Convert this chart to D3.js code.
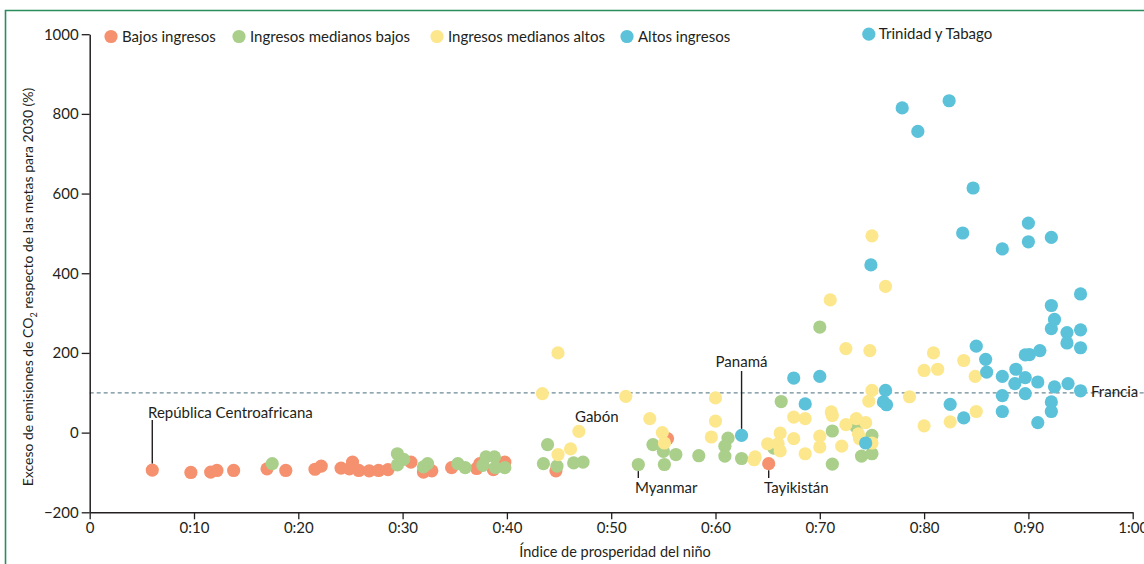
<!DOCTYPE html>
<html lang="es">
<head>
<meta charset="utf-8">
<script src="https://cdn.jsdelivr.net/npm/d3@7"></script>
<style>
  html, body { margin: 0; padding: 0; background: #fff; }
  svg { display: block; font-family: Lato, "Open Sans", sans-serif; }
</style>
</head>
<body>
<svg id="chart" width="1144" height="564"></svg>
<script>
// Income groups: [child flourishing index, excess CO2 emissions vs 2030 targets (%)]
const groupNames = ["Bajos ingresos", "Ingresos medianos bajos", "Ingresos medianos altos", "Altos ingresos"];
const groupColors = ["#f5916f", "#a9cf8a", "#fde78d", "#5bc2da"];

const lowIncome = [
  [0.060,-94],[0.097,-100],[0.116,-99],[0.122,-95],[0.138,-95],[0.170,-91],[0.188,-95],
  [0.216,-92],[0.222,-84],[0.241,-89],[0.252,-74],[0.249,-91],[0.258,-95],[0.268,-96],
  [0.277,-95],[0.286,-93],[0.308,-74],[0.320,-99],[0.328,-96],[0.347,-88],[0.371,-90],
  [0.374,-78],[0.387,-93],[0.398,-74],[0.447,-96],[0.554,-15],[0.651,-78]
];
const lowerMiddle = [
  [0.175,-78],[0.295,-53],[0.301,-67],[0.295,-81],[0.324,-78],[0.320,-86],[0.353,-78],
  [0.360,-88],[0.380,-61],[0.388,-61],[0.377,-82],[0.389,-88],[0.398,-88],[0.439,-30],
  [0.435,-78],[0.448,-84],[0.464,-76],[0.473,-74],[0.540,-30],[0.550,-47],[0.562,-55],
  [0.551,-80],[0.526,-80],[0.584,-58],[0.612,-14],[0.609,-34],[0.609,-59],[0.625,-65],
  [0.663,78],[0.656,-39],[0.700,265],[0.712,4],[0.712,-79],[0.735,14],[0.740,-59],
  [0.750,-7],[0.750,-53]
];
const upperMiddle = [
  [0.449,200],[0.434,98],[0.449,-55],[0.461,-41],[0.469,3],[0.514,91],[0.537,35],
  [0.549,0],[0.551,-26],[0.600,87],[0.600,29],[0.596,-11],[0.638,-61],[0.637,-68],
  [0.650,-28],[0.660,-28],[0.662,-1],[0.662,-46],[0.675,-15],[0.675,39],[0.686,35],
  [0.686,-53],[0.710,333],[0.711,52],[0.712,43],[0.700,-9],[0.700,-36],[0.721,-34],
  [0.725,20],[0.725,211],[0.735,35],[0.744,25],[0.737,-3],[0.738,-15],[0.750,-26],
  [0.748,206],[0.750,106],[0.747,79],[0.750,494],[0.763,367],[0.786,90],[0.800,156],
  [0.809,200],[0.813,159],[0.800,17],[0.825,27],[0.838,181],[0.849,141],[0.850,53]
];
const highIncome = [
  [0.625,-7],[0.675,137],[0.686,72],[0.700,141],[0.744,-26],[0.749,421],[0.763,106],
  [0.761,77],[0.764,70],[0.779,815],[0.794,756],[0.824,833],[0.825,71],[0.838,37],
  [0.837,501],[0.847,614],[0.850,217],[0.859,184],[0.860,152],[0.875,461],[0.875,141],
  [0.875,93],[0.875,53],[0.888,159],[0.887,123],[0.897,195],[0.901,196],[0.897,138],
  [0.897,98],[0.900,526],[0.900,479],[0.909,127],[0.911,206],[0.909,25],[0.922,490],
  [0.922,319],[0.925,284],[0.922,261],[0.925,115],[0.922,77],[0.922,53],[0.937,251],
  [0.937,225],[0.938,123],[0.950,348],[0.950,258],[0.950,213],[0.950,105]
];
// High-income country above the top of the scale, shown at the upper bound
const trinidad = { name: "Trinidad y Tabago", x: 0.747, y: 1000 };

const referenceValue = 100;   // France
const xTicks = [0,0.1,0.2,0.3,0.4,0.5,0.6,0.7,0.8,0.9,1.0];
const yTicks = [-200,0,200,400,600,800,1000];

// Labelled countries: point and text placement
const callouts = [
  { name: "República Centroafricana", x: 0.060, y: -94, pos: "above", lineTop: 420, textX: 148, textY: 413, anchor: "start" },
  { name: "Panamá", x: 0.625, y: -7, pos: "above", lineTop: 371, textX: 741.5, textY: 362, anchor: "middle" },
  { name: "Myanmar", x: 0.526, y: -80, pos: "below", lineBottom: 478, textX: 635, textY: 488, anchor: "start" },
  { name: "Tayikistán", x: 0.651, y: -78, pos: "below", lineBottom: 478, textX: 764, textY: 488, anchor: "start" }
];

const svg = d3.select("#chart");
const x = d3.scaleLinear().domain([0, 1]).range([89.7, 1132.7]);
const y = d3.scaleLinear().domain([-200, 1000]).range([512.3, 34.2]);
const R = 6.6;
const ink = "#231f20";
const fontSize = 15;

// Panel frame
svg.append("path")
  .attr("d", "M5.5,564 V10.5 H1144")
  .attr("fill", "none").attr("stroke", "#2b8c5c").attr("stroke-width", 1.6);

// Reference line (France)
svg.append("line")
  .attr("x1", x(0)).attr("x2", 1144)
  .attr("y1", y(referenceValue)).attr("y2", y(referenceValue))
  .attr("stroke", "#6d8a97").attr("stroke-width", 1.3).attr("stroke-dasharray", "4,3");

// Axes
const fmtX = d => d === 0 ? "0" : d3.format(".2f")(d).replace(".", ":");
const xAxis = svg.append("g").attr("transform", `translate(0,${y(-200)})`)
  .call(d3.axisBottom(x).tickValues(xTicks).tickFormat(fmtX).tickSize(7).tickSizeOuter(0).tickPadding(3));
const yAxis = svg.append("g").attr("transform", `translate(${x(0)},0)`)
  .call(d3.axisLeft(y).tickValues(yTicks).tickFormat(d3.format("d")).tickSize(8).tickSizeOuter(0).tickPadding(3));
[xAxis, yAxis].forEach(g => {
  g.select(".domain").attr("stroke", ink).attr("stroke-width", 1.5);
  g.selectAll(".tick line").attr("stroke", ink).attr("stroke-width", 1.3);
  g.selectAll(".tick text").attr("fill", ink).style("font-size", fontSize + "px").style("font-family", "Lato, sans-serif");
});

// Axis titles
svg.append("text")
  .attr("x", 615).attr("y", 557)
  .attr("text-anchor", "middle").attr("fill", ink).style("font-size", "14.5px")
  .text("Índice de prosperidad del niño");
const yTitle = svg.append("text")
  .attr("transform", "translate(33,287) rotate(-90)")
  .attr("text-anchor", "middle").attr("fill", ink).style("font-size", "14px");
yTitle.append("tspan").text("Exceso de emisiones de CO");
yTitle.append("tspan").attr("dy", 4).style("font-size", "9px").text("2");
yTitle.append("tspan").attr("dy", -4).text(" respecto de las metas para 2030 (%)");

// Points, one layer per income group
const groups = [lowIncome, lowerMiddle, upperMiddle, highIncome];
groups.forEach((pts, i) => {
  svg.append("g").selectAll("circle").data(pts).join("circle")
    .attr("cx", d => x(d[0])).attr("cy", d => y(d[1])).attr("r", R)
    .attr("fill", groupColors[i]);
});
svg.append("circle").attr("cx", x(trinidad.x)).attr("cy", y(trinidad.y)).attr("r", R).attr("fill", groupColors[3]);
svg.append("text").attr("x", x(trinidad.x) + 10).attr("y", y(trinidad.y)).attr("dy", "0.35em")
  .attr("fill", ink).style("font-size", fontSize + "px").text(trinidad.name);

// Legend
const legendX = [111, 239, 437, 627];
const legend = svg.append("g").selectAll("g").data(groupNames).join("g")
  .attr("transform", (d, i) => `translate(${legendX[i]},36.5)`);
legend.append("circle").attr("r", R).attr("fill", (d, i) => groupColors[i]);
legend.append("text").attr("x", 11).attr("dy", "0.35em").attr("fill", ink)
  .style("font-size", fontSize + "px").text(d => d);

// Country call-outs
callouts.forEach(c => {
  const cx = x(c.x), cy = y(c.y);
  if (c.pos === "above") {
    svg.append("line").attr("x1", cx).attr("x2", cx).attr("y1", c.lineTop).attr("y2", cy - R)
      .attr("stroke", ink).attr("stroke-width", 1.4);
  } else {
    svg.append("line").attr("x1", cx).attr("x2", cx).attr("y1", cy + R).attr("y2", c.lineBottom)
      .attr("stroke", ink).attr("stroke-width", 1.4);
  }
  svg.append("text").attr("x", c.textX).attr("y", c.textY).attr("dy", "0.35em")
    .attr("text-anchor", c.anchor).attr("fill", ink).style("font-size", fontSize + "px").text(c.name);
});
svg.append("text").attr("x", 575).attr("y", 417).attr("dy", "0.35em")
  .attr("fill", ink).style("font-size", fontSize + "px").text("Gabón");
svg.append("text").attr("x", 1091).attr("y", y(referenceValue) - 1.5).attr("dy", "0.35em")
  .attr("fill", ink).style("font-size", fontSize + "px").text("Francia");
</script>
</body>
</html>
